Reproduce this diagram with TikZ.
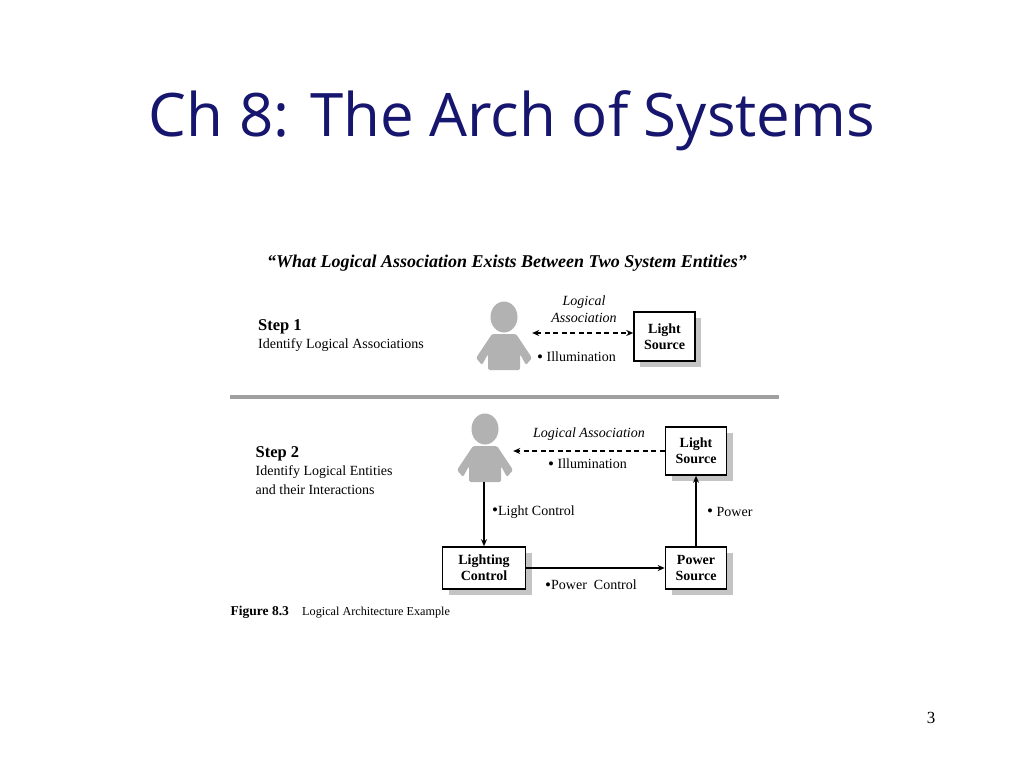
\documentclass[tikz,border=0pt]{standalone}
\usepackage{fontspec}
\setmainfont{Liberation Serif}
\newfontfamily\titlefont{Open Sans}
\usetikzlibrary{arrows.meta,shadows}
\definecolor{titleblue}{HTML}{16166E}
\definecolor{figgray}{HTML}{B2B2B2}
\definecolor{shadegray}{HTML}{C4C4C4}
\definecolor{rulegray}{HTML}{A0A0A0}
\newcommand{\lablock}[5] {\node at (#1) (#2) [draw, line width=1.6pt, fill=white, align=center, inner sep=0pt, minimum width=#4pt, minimum height=#5pt, font=\fontsize{14}{16}\selectfont\bfseries, drop shadow={shadow xshift=6pt, shadow yshift=-6pt, fill=shadegray, opacity=1}] {#3};}
\newcommand{\laperson}[2] {\fill [figgray, shift={(#1)}] (0,0) ellipse (13.5pt and 15.5pt);
  \fill [figgray, shift={(#1)}, rounded corners=1.5pt] (-12,17) -- (12,17) -- (28,41) -- (22,48) -- (16,37) -- (16,53) -- (-16,53) -- (-16,37) -- (-22,48) -- (-28,41) -- cycle;
  \path [shift={(#1)}] (0,19) node (#2) [minimum width=56pt, minimum height=68pt, inner sep=0pt] {};}
\newcommand{\lalabel}[3] {\node at (#1) (#2) [anchor=west, inner sep=0pt, font=\fontsize{14}{16}\selectfont] {#3};}
\newcommand{\labullet}{{\fontsize{17}{16}\selectfont\raisebox{-0.5pt}{\textbullet}}}

\begin{document}
\begin{tikzpicture}[x=1pt, y=-1pt, >={Stealth[length=7pt, width=6pt]}]

\useasboundingbox [fill=white] (0,0) rectangle (1024,768);

\node at (512,121) (title) [text=titleblue, font=\titlefont\fontsize{60}{66}\selectfont] {Ch 8: The Arch of Systems};

\node at (507,263) (question) [font=\fontsize{18}{20}\selectfont\bfseries\itshape] {``What Logical Association Exists Between Two System Entities''};

% step 1
\node at (258,327) (step1) [anchor=west, inner sep=0pt, font=\fontsize{16.5}{18}\selectfont\bfseries] {Step 1};
\lalabel{258,345}{step1text}{Identify Logical Associations};

\laperson{504,317}{person1};
\lablock{664.5,336.5}{lsrc1}{Light\\Source}{61}{49};

\draw [<->, dash pattern=on 5pt off 3.5pt, line width=1.4pt] (person1.east |- 0,333) -- (lsrc1.west |- 0,333);
\node at (584,309.5) (assoc1) [align=center, inner sep=0pt, font=\fontsize{14}{17}\selectfont\itshape] {Logical\\Association};
\lalabel{537,357}{illum1}{\labullet\ Illumination};

\draw [rulegray, line width=4pt] (230,397) -- (779,397);

% step 2
\node at (255.5,454) (step2) [anchor=west, inner sep=0pt, font=\fontsize{16.5}{18}\selectfont\bfseries] {Step 2};
\lalabel{255.5,472.5}{step2text}{Identify Logical Entities};
\lalabel{255.5,489.5}{step2more}{and their Interactions};

\laperson{485,429}{person2};
\lablock{696,451}{lsrc2}{Light\\Source}{61}{48};
\lablock{484,568}{lctl}{Lighting\\Control}{83}{42};
\lablock{696,568}{psrc}{Power\\Source}{61}{42};

\draw [->, dash pattern=on 5pt off 3.5pt, line width=1.4pt] (lsrc2.west) -- (lsrc2.west -| person2.east);
\draw [->, line width=1.4pt] (lctl.north |- person2.south) -- (lctl.north);
\draw [->, line width=1.4pt] (lctl.east) -- (psrc.west);
\draw [->, line width=1.4pt] (psrc.north) -- (lsrc2.south);

\node at (589,434) (assoc2) [inner sep=0pt, font=\fontsize{14}{16}\selectfont\itshape] {Logical Association};
\lalabel{548,464}{illum2}{\labullet\ Illumination};
\lalabel{492,512}{lightctl}{\labullet Light Control};
\lalabel{707,512}{power}{\labullet\ Power};
\lalabel{545,585}{powerctl}{\labullet Power\ \ Control};

\node at (230.5,612.5) (figno) [anchor=west, inner sep=0pt, font=\fontsize{13.5}{15}\selectfont\bfseries] {Figure 8.3};
\node at (302,612.5) (caption) [anchor=west, inner sep=0pt, font=\fontsize{12.2}{14}\selectfont] {Logical Architecture Example};

\node at (931,718) (pagenum) [font=\fontsize{17}{19}\selectfont] {3};

\end{tikzpicture}
\end{document}
